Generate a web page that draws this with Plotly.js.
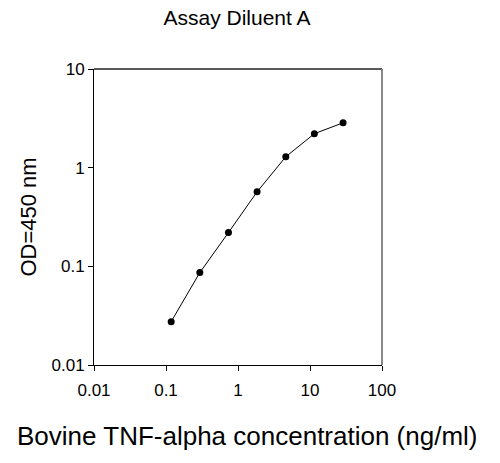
<!DOCTYPE html>
<html>
<head>
<meta charset="utf-8">
<script src="https://cdn.plot.ly/plotly-3.0.1.min.js"></script>
<style>html,body{margin:0;padding:0;background:#fff;}#chart{width:500px;height:463px;}</style>
</head>
<body>
<div id="chart"></div>
<script>
const concentration = [0.118, 0.295, 0.737, 1.84, 4.61, 11.5, 28.8];
const od450 = [0.0275, 0.0865, 0.22, 0.569, 1.29, 2.21, 2.85];
const xTickVals = [0.01, 0.1, 1, 10, 100];
const xTickText = ['0.01', '0.1', '1', '10', '100'];
const yTickVals = [0.01, 0.1, 1, 10];
const yTickText = ['0.01', '0.1', '1', '10'];

const font = 'Liberation Sans, Arial, Helvetica, sans-serif';

const trace = {
  x: concentration,
  y: od450,
  type: 'scatter',
  mode: 'lines+markers',
  line: {color: '#000', width: 1},
  marker: {color: '#000', size: 7},
  showlegend: false,
  hoverinfo: 'x+y'
};

const layout = {
  width: 500,
  height: 463,
  margin: {l: 94, r: 118, t: 69, b: 98},
  paper_bgcolor: '#fff',
  plot_bgcolor: '#fff',
  font: {family: font, color: '#000'},
  title: {
    text: 'Assay Diluent A',
    font: {family: font, size: 21, color: '#000'},
    x: 237/500, xref: 'container', xanchor: 'center',
    y: 1 - 18/463, yref: 'container', yanchor: 'middle'
  },
  xaxis: {
    type: 'log',
    range: [-2, 2],
    tickvals: xTickVals,
    ticktext: xTickText,
    ticks: 'outside',
    ticklen: 5,
    tickwidth: 1,
    tickcolor: '#000',
    ticklabelstandoff: 5,
    showline: true,
    linecolor: '#000',
    linewidth: 1,
    showgrid: false,
    zeroline: false,
    tickfont: {family: font, size: 17, color: '#000'},
    automargin: false,
    title: {text: ''}
  },
  yaxis: {
    type: 'log',
    range: [-2, 1],
    tickvals: yTickVals,
    ticktext: yTickText,
    ticks: 'outside',
    ticklen: 5,
    tickwidth: 1,
    tickcolor: '#000',
    showline: true,
    linecolor: '#000',
    linewidth: 1,
    showgrid: false,
    zeroline: false,
    tickfont: {family: font, size: 17, color: '#000'},
    automargin: false,
    title: {
      text: 'OD=450 nm',
      font: {family: font, size: 22, color: '#000'},
      standoff: 8
    }
  },
  annotations: [
    {text: 'Bovine TNF-alpha concentration (ng/ml)', showarrow: false,
     xref: 'paper', yref: 'paper', x: (247 - 94) / 288, y: (365 - 436) / 296,
     xanchor: 'center', yanchor: 'middle',
     font: {family: font, size: 26, color: '#000'}}
  ],
  shapes: [
    {type: 'line', xref: 'paper', yref: 'paper', x0: 0, x1: 1, y0: 1, y1: 1,
     line: {color: '#222', width: 1.5}},
    {type: 'line', xref: 'paper', yref: 'paper', x0: 1, x1: 1, y0: 0, y1: 1,
     line: {color: '#888', width: 2}}
  ]
};

Plotly.newPlot('chart', [trace], layout, {displayModeBar: false, staticPlot: true});
</script>
</body>
</html>
